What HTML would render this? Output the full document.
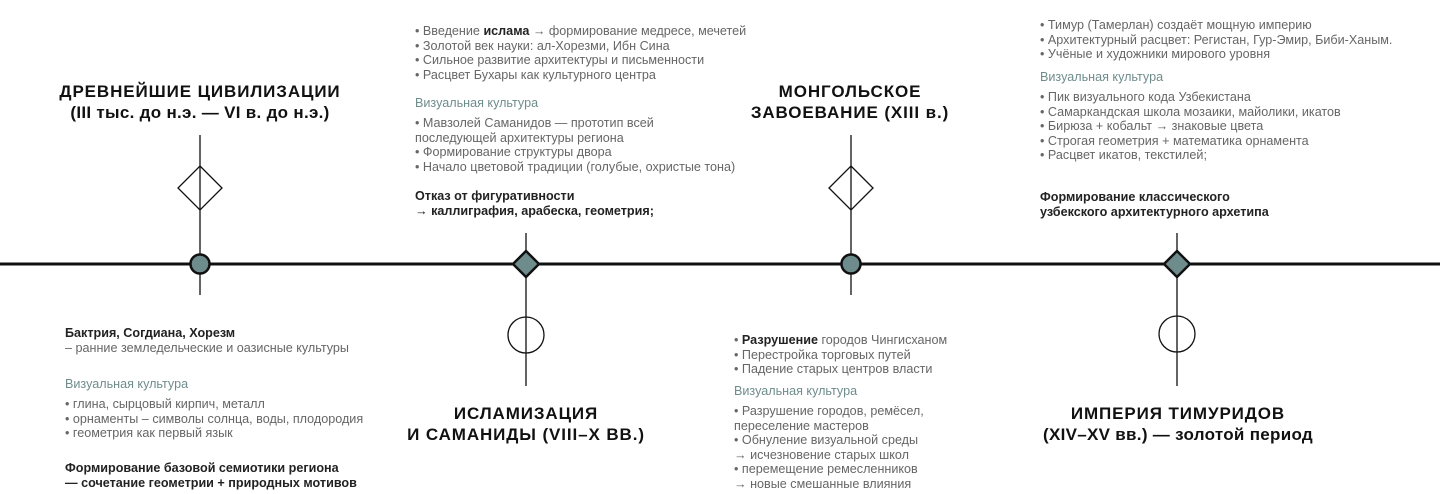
<!DOCTYPE html>
<html><head><meta charset="utf-8"><style>
body{margin:0;width:1440px;height:494px;background:#fff;position:relative;overflow:hidden;font-family:"Liberation Sans","Noto Sans CJK SC",sans-serif}
.t{position:absolute;font-size:12.6px;line-height:14.6px;color:#666;white-space:nowrap}
.h{color:#6f8c8c}
.b{color:#222;font-weight:bold}
.ti{position:absolute;font-size:17px;line-height:21px;font-weight:bold;color:#111;text-align:center;white-space:nowrap;letter-spacing:0.3px;transform:translateX(-50%)}
.up{text-transform:uppercase;letter-spacing:0.9px}
</style></head><body>
<svg width="1440" height="494" style="position:absolute;left:0;top:0">
<line x1="0" y1="264" x2="1440" y2="264" stroke="#111" stroke-width="3"/>
<g stroke="#111" stroke-width="1.3" fill="none">
<line x1="200" y1="135" x2="200" y2="295"/>
<polygon points="200,166 222,188 200,210 178,188" fill="#fff"/>
<line x1="200" y1="166" x2="200" y2="210"/>
<line x1="526" y1="233" x2="526" y2="386"/>
<circle cx="526" cy="335" r="18"/>
<line x1="851" y1="135" x2="851" y2="295"/>
<polygon points="851,166 873,188 851,210 829,188" fill="#fff"/>
<line x1="851" y1="166" x2="851" y2="210"/>
<line x1="1177" y1="233" x2="1177" y2="386"/>
<circle cx="1177" cy="334" r="18"/>
</g>
<g stroke="#111" stroke-width="2.5" fill="#6f8c8c">
<circle cx="200" cy="264" r="9.5"/>
<polygon points="526,251 539,264 526,277 513,264"/>
<circle cx="851" cy="264" r="9.5"/>
<polygon points="1177,251 1190,264 1177,277 1164,264"/>
</g>
</svg>

<div class="ti" style="left:200px;top:81px"><span class="up">Древнейшие цивилизации</span><br>(III тыс. до н.э. — VI в. до н.э.)</div>
<div class="ti up" style="left:850px;top:81px">Монгольское<br>завоевание <span style="text-transform:none">(XIII в.)</span></div>
<div class="ti up" style="left:526px;top:403px">Исламизация<br>и Саманиды (VIII–X вв.)</div>
<div class="ti" style="left:1178px;top:403px"><span class="up">Империя Тимуридов</span><br>(XIV–XV вв.) — золотой период</div>

<div class="t" style="left:415px;top:24px">• Введение <span class="b">ислама</span> → формирование медресе, мечетей<br>• Золотой век науки: ал-Хорезми, Ибн Сина<br>• Сильное развитие архитектуры и письменности<br>• Расцвет Бухары как культурного центра</div>
<div class="t h" style="left:415px;top:96px">Визуальная культура</div>
<div class="t" style="left:415px;top:116px">• Мавзолей Саманидов — прототип всей<br>последующей архитектуры региона<br>• Формирование структуры двора<br>• Начало цветовой традиции (голубые, охристые тона)</div>
<div class="t b" style="left:415px;top:189px">Отказ от фигуративности<br>→ каллиграфия, арабеска, геометрия;</div>

<div class="t" style="left:1040px;top:18px">• Тимур (Тамерлан) создаёт мощную империю<br>• Архитектурный расцвет: Регистан, Гур-Эмир, Биби-Ханым.<br>• Учёные и художники мирового уровня</div>
<div class="t h" style="left:1040px;top:70px">Визуальная культура</div>
<div class="t" style="left:1040px;top:90px">• Пик визуального кода Узбекистана<br>• Самаркандская школа мозаики, майолики, икатов<br>• Бирюза + кобальт → знаковые цвета<br>• Строгая геометрия + математика орнамента<br>• Расцвет икатов, текстилей;</div>
<div class="t b" style="left:1040px;top:190px">Формирование классического<br>узбекского архитектурного архетипа</div>

<div class="t" style="left:65px;top:326px"><span class="b">Бактрия, Согдиана, Хорезм</span><br>– ранние земледельческие и оазисные культуры</div>
<div class="t h" style="left:65px;top:377px">Визуальная культура</div>
<div class="t" style="left:65px;top:397px">• глина, сырцовый кирпич, металл<br>• орнаменты – символы солнца, воды, плодородия<br>• геометрия как первый язык</div>
<div class="t b" style="left:65px;top:461px">Формирование базовой семиотики региона<br>— сочетание геометрии + природных мотивов</div>

<div class="t" style="left:734px;top:333px">• <span class="b">Разрушение</span> городов Чингисханом<br>• Перестройка торговых путей<br>• Падение старых центров власти</div>
<div class="t h" style="left:734px;top:384px">Визуальная культура</div>
<div class="t" style="left:734px;top:404px">• Разрушение городов, ремёсел,<br>переселение мастеров<br>• Обнуление визуальной среды<br>→ исчезновение старых школ<br>• перемещение ремесленников<br>→ новые смешанные влияния</div>
</body></html>
